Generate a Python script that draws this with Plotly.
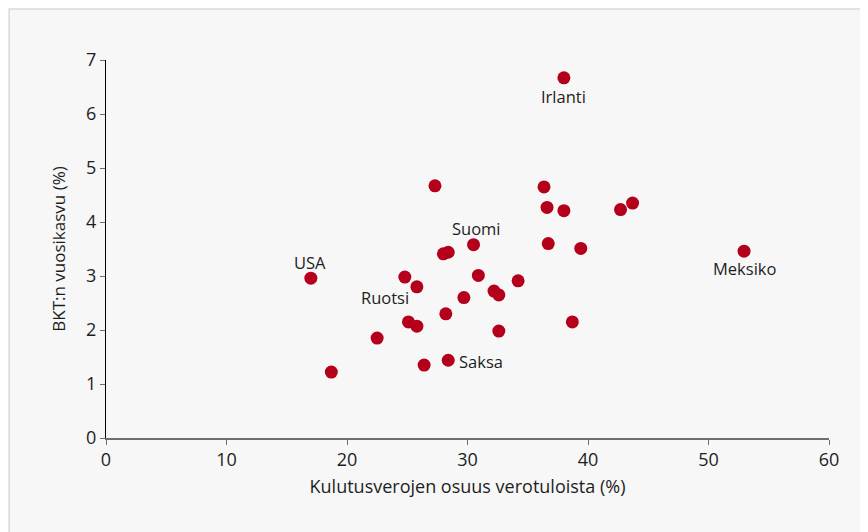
import plotly.graph_objects as go

# Consumption tax share of tax revenue (%) and annual GDP growth (%)
tax_share = [38.0, 52.95, 17.0, 18.7, 22.5, 24.8, 25.8, 25.1, 25.8, 26.4, 27.3,
             28.0, 28.4, 28.2, 28.4, 29.7, 30.5, 30.9, 32.2, 32.6, 32.6, 34.2,
             36.35, 36.6, 38.0, 36.7, 39.4, 38.7, 42.7, 43.7]
gdp_growth = [6.67, 3.46, 2.96, 1.22, 1.85, 2.98, 2.80, 2.15, 2.07, 1.35, 4.67,
              3.41, 3.44, 2.30, 1.44, 2.60, 3.58, 3.01, 2.72, 2.65, 1.98, 2.91,
              4.65, 4.27, 4.21, 3.60, 3.51, 2.15, 4.23, 4.35]

label_names = ["Irlanti", "Meksiko", "USA", "Ruotsi", "Suomi", "Saksa"]
label_x = [38.0, 52.95, 17.0, 25.8, 30.5, 28.4]
label_y = [6.67, 3.46, 2.96, 2.80, 3.58, 1.44]

x_ticks = [0, 10, 20, 30, 40, 50, 60]
y_ticks = [0, 1, 2, 3, 4, 5, 6, 7]

FONT = "Open Sans"
RED = "#b5001c"
TXT = "#1e1e1e"

fig = go.Figure()
fig.add_trace(go.Scatter(
    x=tax_share, y=gdp_growth, mode="markers",
    marker=dict(size=13, color=RED, line=dict(width=0)),
    hoverinfo="x+y", showlegend=False,
))

# label offsets (pixels, down positive) relative to point
offsets = {
    "Irlanti": (0, 19),
    "Meksiko": (0, 17),
    "USA": (-1, -16),
    "Ruotsi": (-32, 11),
    "Suomi": (3, -16),
    "Saksa": (33, 1),
}
for name, lx, ly in zip(label_names, label_x, label_y):
    dx, dy = offsets[name]
    fig.add_annotation(x=lx, y=ly, text=name, showarrow=False,
                       xshift=dx, yshift=-dy,
                       font=dict(family=FONT, size=16.5, color=TXT))

fig.add_shape(type="rect", xref="paper", yref="paper",
              x0=-0.134, x1=1.3, y0=-0.5, y1=1.135,
              fillcolor="#f7f7f7", line=dict(color="#dadada", width=1.5),
              layer="below")

fig.update_layout(
    width=860, height=524,
    margin=dict(l=98, r=39, t=52, b=94),
    paper_bgcolor="white", plot_bgcolor="rgba(0,0,0,0)",
    font=dict(family=FONT, size=17, color=TXT),
    xaxis=dict(range=[0, 60], tickvals=x_ticks, showgrid=False, zeroline=False,
               showline=True, linecolor="#6e6e6e", linewidth=1.5,
               ticks="outside", ticklen=5, tickcolor="#6e6e6e", tickwidth=1,
               tickfont=dict(size=18),
               title=dict(text="Kulutusverojen osuus verotuloista (%)",
                          font=dict(size=18), standoff=10)),
    yaxis=dict(range=[0, 7], tickvals=y_ticks, showgrid=False, zeroline=False,
               showline=True, linecolor="#000000", linewidth=1.3,
               ticks="outside", ticklen=5, tickcolor="#6e6e6e", tickwidth=1,
               tickfont=dict(size=18),
               title=dict(text="BKT:n vuosikasvu (%)",
                          font=dict(size=17), standoff=16)),
)

fig.write_html("out.html")
